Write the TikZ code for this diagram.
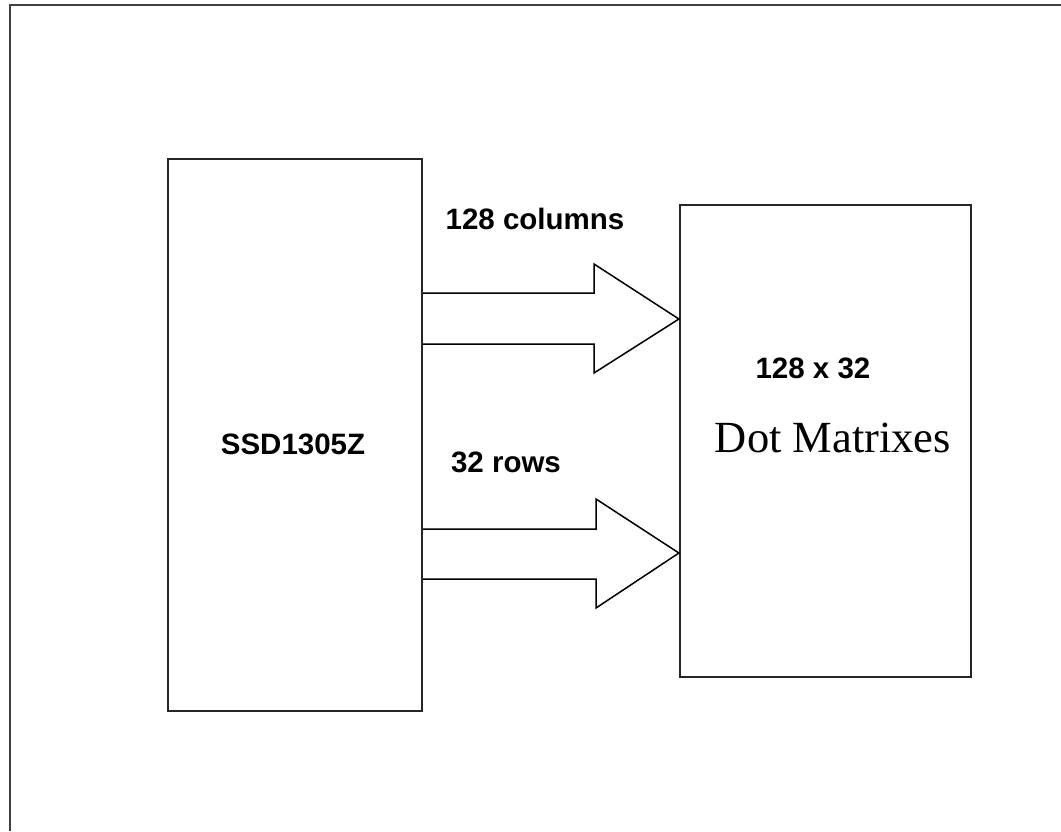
\documentclass[tikz,border=0pt]{standalone}
\usepackage{fontspec}
\setmainfont{Liberation Serif}
\setsansfont{Liberation Sans}
\usetikzlibrary{fit}
\begin{document}
\begin{tikzpicture}[x=1pt,y=-1pt,
  frame/.style={draw=black!75,line width=2.2pt},
  blockbox/.style={draw=black!85,line width=2.2pt,inner sep=0pt,minimum width=0pt},
  bigarrow/.style={draw=black,line width=1.5pt,line join=miter},
  lbl/.style={font=\sffamily\bfseries\fontsize{29.5}{31}\selectfont,inner sep=0pt,anchor=base},
  serif/.style={font=\rmfamily\fontsize{44.5}{48}\selectfont,inner sep=0pt,anchor=base}]
\useasboundingbox (0,0) rectangle (1061,831);
% outer frame (top and left sides visible)
\draw[frame] (1061,5) -- (10,5) -- (10,831);
% blocks
\path (168,159) coordinate (ssdNW) (422,711) coordinate (ssdSE);
\path (680,205) coordinate (dmNW) (971,677) coordinate (dmSE);
\node[blockbox,fit=(ssdNW)(ssdSE)] (ssd) {};
\node[blockbox,fit=(dmNW)(dmSE)] (dm) {};
% block arrows
\draw[bigarrow] (ssd.east |- 0,293) -- (594,293) -- (594,264) -- (dm.west |- 0,319) -- (594,373) -- (594,344) -- (ssd.east |- 0,344);
\draw[bigarrow] (ssd.east |- 0,529) -- (596,529) -- (596,499) -- (dm.west |- 0,553) -- (596,608) -- (596,579) -- (ssd.east |- 0,579);
% labels
\node[lbl] (cols) at (535,229) {128 columns};
\node[lbl] (rows) at (506,472) {32 rows};
\node[lbl] (ssdl) at (293,454) {SSD1305Z};
\node[lbl] (size) at (813,378) {128 x 32};
\node[serif] (dot) at (833,452) {Dot Matrixes};
\end{tikzpicture}
\end{document}
